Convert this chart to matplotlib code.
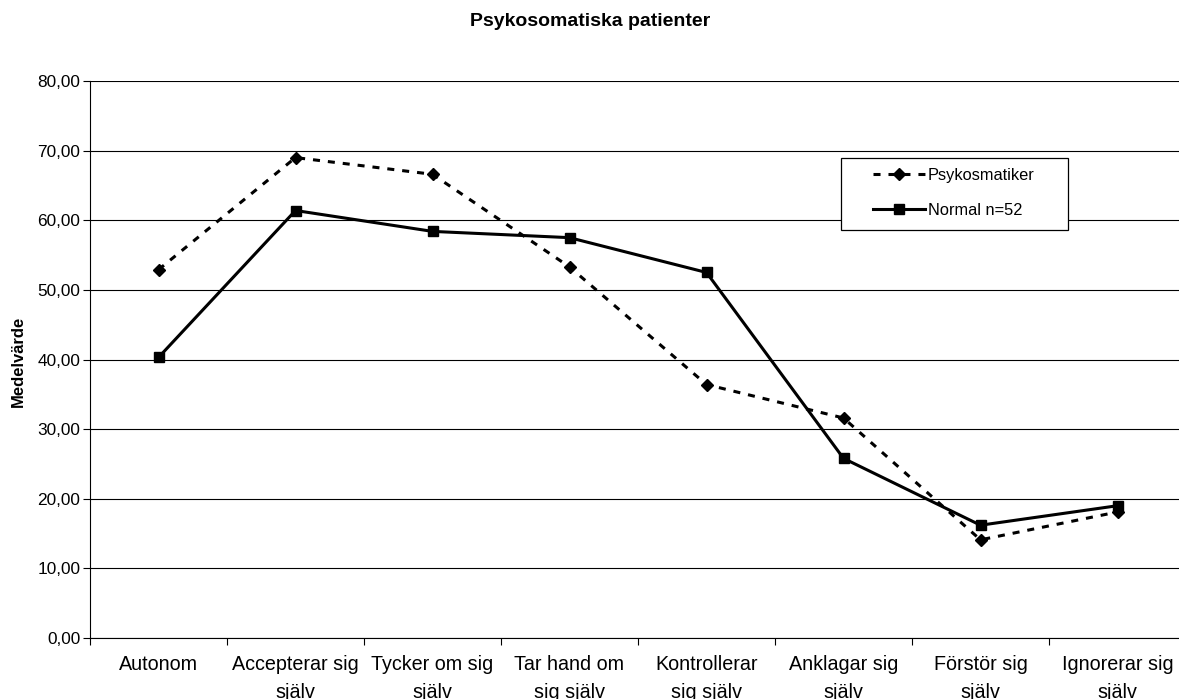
import matplotlib.pyplot as plt
from matplotlib.patches import Rectangle
from matplotlib.ticker import FuncFormatter, FixedLocator

plt.rcParams['font.family'] = ['Liberation Sans', 'DejaVu Sans']

kategorier = ['Autonom', 'Accepterar sig\nsjälv', 'Tycker om sig\nsjälv',
              'Tar hand om\nsig själv', 'Kontrollerar\nsig själv',
              'Anklagar sig\nsjälv', 'Förstör sig\nsjälv', 'Ignorerar sig\nsjälv']
psykosomatiker = [52.9, 69.0, 66.6, 53.3, 36.4, 31.6, 14.1, 18.1]
normal = [40.3, 61.4, 58.4, 57.5, 52.5, 25.8, 16.2, 19.0]
y_ticks = [0, 10, 20, 30, 40, 50, 60, 70, 80]

W, H = 1179, 699
fig = plt.figure(figsize=(W / 100, H / 100), dpi=100)
# plottytan går lite utanför bildens högra kant
ax = fig.add_axes([90 / W, 1 - 638 / H, 1096 / W, 557 / H])

x = list(range(len(kategorier)))
l1, = ax.plot(x, psykosomatiker, color='black', linewidth=2.2,
              linestyle=(0, (2.3, 2.6)), marker='D', markersize=6.5,
              label='Psykosmatiker', zorder=3)
l2, = ax.plot(x, normal, color='black', linewidth=2.2, linestyle='-',
              marker='s', markersize=7, label='Normal n=52', zorder=3)

ax.set_xlim(-0.5, len(kategorier) - 0.5)
ax.set_ylim(0, 80)
ax.set_yticks(y_ticks)
ax.yaxis.set_major_formatter(FuncFormatter(lambda v, p: f'{v:.2f}'.replace('.', ',')))
ax.tick_params(axis='y', length=5, width=0.8, pad=2, labelsize=12.4)

ax.set_xticks(x)
ax.set_xticklabels(kategorier, fontsize=14.2, linespacing=1.65)
ax.xaxis.set_minor_locator(FixedLocator([i - 0.5 for i in range(len(kategorier) + 1)]))
ax.tick_params(axis='x', which='major', length=0, pad=12)
ax.tick_params(axis='x', which='minor', length=5, width=0.8)

ax.grid(axis='y', color='black', linewidth=0.8)
ax.set_axisbelow(True)
for side in ['top', 'right']:
    ax.spines[side].set_visible(False)
for side in ['left', 'bottom']:
    ax.spines[side].set_linewidth(0.8)

fig.text(590 / W, 1 - 22 / H, 'Psykosomatiska patienter', ha='center',
         va='center', fontsize=14, fontweight='bold')
fig.text(18 / W, 1 - 361 / H, 'Medelvärde', ha='center', va='center',
         rotation=90, fontsize=12, fontweight='bold')

fs = 11.8
leg = ax.legend(handles=[l1, l2], loc='upper left',
                bbox_to_anchor=(865 / W, 1 - 160 / H),
                bbox_transform=fig.transFigure, frameon=False, borderpad=0,
                handlelength=3.15, handletextpad=0.2, labelspacing=1.2,
                fontsize=fs)
leg.set_zorder(6)

# ram runt legenden med extra luft i sidled
fig.canvas.draw()
bb = leg.get_window_extent(fig.canvas.get_renderer())
px = fs * 100 / 72
ram = Rectangle((bb.x0 - 1.95 * px, bb.y0 - 0.75 * px),
                bb.width + 3.95 * px, bb.height + 1.4 * px,
                transform=None, facecolor='white', edgecolor='black',
                linewidth=0.9, zorder=5)
ax.add_patch(ram)

fig.savefig('out.png', dpi=100)
